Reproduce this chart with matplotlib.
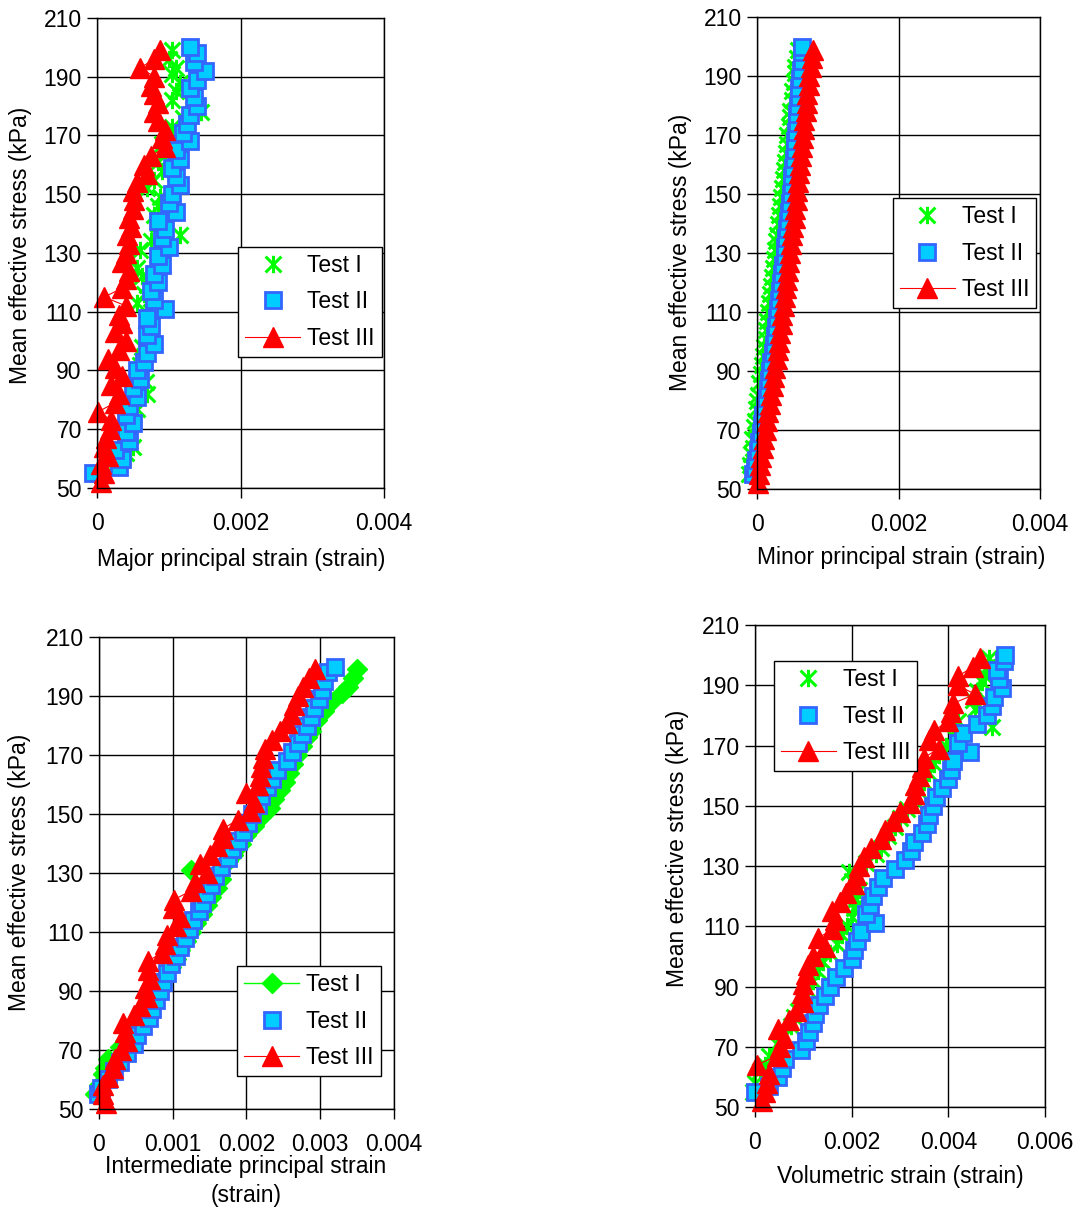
import numpy as np
import matplotlib
matplotlib.use("Agg")
import matplotlib.pyplot as plt
from matplotlib.path import Path

plt.rcParams['font.family'] = ['Liberation Sans', 'DejaVu Sans']

# mean effective stress (kPa) at each reading, per test
stress_1 = [55, 58, 62, 64, 67, 71, 73, 77, 80, 82, 86, 89, 92, 95, 98, 101, 104, 107, 110, 113,
            116, 119, 122, 125, 128, 131, 134, 136, 140, 143, 146, 149, 152, 155, 158, 161, 164, 167,
            170, 173, 176, 178, 182, 185, 188, 191, 193, 196, 199]
stress_2 = [55, 57, 60, 63, 66, 69, 72, 75, 78, 81, 84, 87, 90, 93, 96, 99, 102, 105, 108, 111,
            114, 117, 120, 123, 126, 129, 132, 135, 138, 141, 144, 147, 150, 153, 156, 159, 162, 165,
            168, 171, 174, 177, 180, 183, 186, 189, 192, 195, 198, 200]
stress_3 = [52, 55, 58, 61, 64, 67, 70, 73, 76, 79, 82, 85, 88, 91, 94, 97, 100, 103, 106, 109,
            112, 115, 118, 121, 124, 127, 130, 133, 136, 139, 142, 145, 148, 151, 154, 157, 160, 163,
            166, 169, 172, 175, 178, 181, 184, 187, 190, 193, 196, 199]

# strains in units of 1e-3
major_1 = [0.05, 0.25, 0.40, 0.50, 0.35, 0.45, 0.40, 0.55, 0.50, 0.70, 0.68, 0.55, 0.60, 0.65, 0.62,
           0.70, 0.72, 0.68, 0.75, 0.55, 0.65, 0.70, 0.62, 0.55, 0.45, 0.60, 0.75, 1.15, 0.85, 0.80,
           0.85, 0.88, 0.70, 0.80, 0.90, 0.85, 0.95, 0.90, 1.00, 1.05, 1.20, 1.45, 1.05, 1.10, 1.15,
           1.05, 1.10, 1.00, 1.05]
major_2 = [-0.05, 0.30, 0.35, 0.25, 0.45, 0.40, 0.50, 0.40, 0.45, 0.55, 0.50, 0.60, 0.55, 0.65, 0.70,
           0.80, 0.70, 0.75, 0.70, 0.95, 0.80, 0.75, 0.85, 0.80, 0.90, 0.85, 1.00, 0.90, 0.95, 0.85,
           1.10, 1.00, 1.05, 1.15, 1.10, 1.05, 1.15, 1.10, 1.30, 1.20, 1.25, 1.30, 1.40, 1.35, 1.30,
           1.40, 1.50, 1.35, 1.40, 1.30]
major_3 = [0.05, 0.10, 0.05, 0.15, 0.10, 0.12, 0.18, 0.20, 0.02, 0.25, 0.30, 0.20, 0.35, 0.25, 0.15,
           0.30, 0.40, 0.25, 0.35, 0.30, 0.40, 0.10, 0.35, 0.40, 0.45, 0.35, 0.40, 0.45, 0.42, 0.48,
           0.45, 0.50, 0.52, 0.50, 0.55, 0.70, 0.65, 0.75, 0.95, 0.90, 0.95, 0.85, 0.80, 0.85, 0.80,
           0.75, 0.80, 0.60, 0.80, 0.88]

minor_1 = [-0.12, -0.10, -0.08, -0.06, -0.07, -0.04, -0.03, -0.02, 0.00, 0.01, 0.03, 0.05, 0.07, 0.08,
           0.10, 0.12, 0.13, 0.14, 0.15, 0.17, 0.18, 0.20, 0.21, 0.23, 0.24, 0.26, 0.27, 0.28, 0.30,
           0.31, 0.33, 0.34, 0.35, 0.37, 0.38, 0.39, 0.41, 0.42, 0.43, 0.45, 0.46, 0.47, 0.49, 0.50,
           0.52, 0.53, 0.54, 0.56, 0.58]
minor_2 = [-0.05, -0.03, -0.01, 0.01, 0.03, 0.05, 0.07, 0.09, 0.11, 0.13, 0.15, 0.17, 0.19, 0.20, 0.22,
           0.24, 0.25, 0.27, 0.28, 0.30, 0.31, 0.33, 0.34, 0.36, 0.37, 0.39, 0.40, 0.41, 0.43, 0.44,
           0.45, 0.46, 0.48, 0.49, 0.50, 0.51, 0.52, 0.53, 0.54, 0.55, 0.56, 0.57, 0.58, 0.59, 0.60,
           0.61, 0.62, 0.63, 0.64, 0.64]
minor_3 = [0.02, 0.03, 0.04, 0.06, 0.08, 0.10, 0.12, 0.14, 0.16, 0.18, 0.20, 0.22, 0.24, 0.26, 0.28,
           0.30, 0.31, 0.33, 0.35, 0.36, 0.38, 0.39, 0.41, 0.42, 0.44, 0.45, 0.47, 0.48, 0.50, 0.51,
           0.53, 0.54, 0.56, 0.57, 0.58, 0.60, 0.61, 0.62, 0.63, 0.65, 0.66, 0.67, 0.69, 0.70, 0.71,
           0.73, 0.74, 0.76, 0.77, 0.79]

inter_1 = [-0.05, 0.00, 0.05, 0.08, 0.12, 0.28, 0.35, 0.45, 0.55, 0.62, 0.70, 0.78, 0.85, 0.90, 0.98,
           1.05, 1.10, 1.18, 1.25, 1.32, 1.40, 1.46, 1.52, 1.60, 1.65, 1.25, 1.75, 1.82, 1.92, 2.00,
           2.10, 2.20, 2.32, 2.38, 2.45, 2.52, 2.58, 2.63, 2.68, 2.75, 2.82, 2.88, 2.95, 3.05, 3.15,
           3.30, 3.38, 3.45, 3.50]
inter_2 = [-0.02, 0.03, 0.12, 0.20, 0.28, 0.38, 0.48, 0.52, 0.60, 0.68, 0.72, 0.78, 0.83, 0.87, 0.92,
           0.98, 1.05, 1.10, 1.17, 1.22, 1.28, 1.35, 1.40, 1.45, 1.52, 1.58, 1.65, 1.75, 1.80, 1.88,
           1.95, 2.02, 2.08, 2.15, 2.20, 2.28, 2.35, 2.42, 2.55, 2.62, 2.70, 2.75, 2.82, 2.88, 2.92,
           2.98, 3.02, 3.05, 3.10, 3.20]
inter_3 = [0.10, 0.05, 0.06, 0.12, 0.19, 0.22, 0.30, 0.38, 0.35, 0.33, 0.48, 0.55, 0.65, 0.62, 0.69,
           0.66, 0.66, 0.85, 0.90, 0.92, 1.05, 1.10, 1.00, 1.02, 1.25, 1.30, 1.46, 1.37, 1.50, 1.60,
           1.68, 1.68, 1.88, 2.05, 2.10, 2.00, 2.15, 2.18, 2.20, 2.22, 2.25, 2.35, 2.45, 2.55, 2.60,
           2.65, 2.70, 2.77, 2.85, 2.93]

vol_1 = [-0.05, 0.00, 0.10, 0.20, 0.30, 0.45, 0.55, 0.75, 0.80, 0.90, 1.00, 1.10, 1.20, 1.30, 1.40,
         1.55, 1.70, 1.80, 1.90, 2.00, 2.05, 2.10, 2.15, 2.00, 1.95, 2.30, 2.50, 2.60, 2.75, 2.90,
         3.00, 3.15, 3.30, 3.40, 3.50, 3.60, 3.70, 3.80, 3.95, 4.10, 4.90, 4.20, 4.55, 4.50, 4.60,
         4.70, 4.75, 4.80, 4.85]
vol_2 = [0.00, 0.30, 0.48, 0.55, 0.62, 0.95, 1.05, 1.12, 1.20, 1.25, 1.32, 1.45, 1.55, 1.68, 1.85,
         2.00, 2.05, 2.12, 2.20, 2.48, 2.30, 2.38, 2.45, 2.55, 2.65, 2.90, 3.10, 3.22, 3.30, 3.45,
         3.55, 3.60, 3.68, 3.75, 3.87, 4.00, 4.05, 4.10, 4.45, 4.20, 4.30, 4.60, 4.80, 4.90, 4.95,
         5.10, 5.05, 5.00, 5.15, 5.17]
vol_3 = [0.15, 0.20, 0.25, 0.30, 0.05, 0.45, 0.52, 0.60, 0.48, 0.70, 0.85, 1.00, 0.98, 1.00, 1.05,
         1.10, 1.20, 1.45, 1.30, 1.60, 1.65, 1.60, 1.75, 1.88, 2.05, 2.10, 2.15, 2.25, 2.40, 2.60,
         2.70, 2.85, 3.00, 3.20, 3.30, 3.32, 3.40, 3.45, 3.50, 3.80, 3.60, 3.70, 4.00, 4.05, 4.10,
         4.55, 4.20, 4.20, 4.50, 4.66]

labels = ["Test I", "Test II", "Test III"]
yticks = [50, 70, 90, 110, 130, 150, 170, 190, 210]
xticks_a = [0, 0.002, 0.004]
xticklabels_a = ["0", "0.002", "0.004"]
xticks_b = [0, 0.001, 0.002, 0.003, 0.004]
xticklabels_b = ["0", "0.001", "0.002", "0.003", "0.004"]
xticks_c = [0, 0.002, 0.004, 0.006]
xticklabels_c = ["0", "0.002", "0.004", "0.006"]

# excel-like "star" marker: an X with a vertical bar
star = Path([(-1, -1), (1, 1), (-1, 1), (1, -1), (0, -1.1), (0, 1.1)],
            [Path.MOVETO, Path.LINETO] * 3)

FS = 16.5


def panel(rect, xs, xticks, xticklabels, xlabel, xlab_pos, ylab_pos, leg_pos, diamond=False):
    ax = fig.add_axes(rect)
    x1, x2, x3 = [np.array(v) * 1e-3 for v in xs]
    if diamond:
        ax.plot(x1, stress_1, color="#00FF00", lw=1, marker="D", ms=10.5, mec="#00FF00",
                mfc="#00FF00", label=labels[0], clip_on=False)
    else:
        ax.plot(x1, stress_1, ls="none", marker=star, ms=12.5, mew=2.2, color="#00FF00",
                label=labels[0], clip_on=False)
    ax.plot(x2, stress_2, ls="none", marker="s", ms=11, mfc="#00CCFF", mec="#3366FF", mew=2,
            label=labels[1], clip_on=False)
    ax.plot(x3, stress_3, color="#FF0000", lw=0.8, marker="^", ms=15, mfc="#FF0000",
            mec="#FF0000", label=labels[2], clip_on=False)
    ax.set_xlim(xticks[0], xticks[-1])
    ax.set_ylim(50, 210)
    ax.set_xticks(xticks)
    ax.set_xticklabels(xticklabels)
    ax.set_yticks(yticks)
    ax.grid(True, color="black", lw=1)
    ax.set_axisbelow(True)
    for s in ax.spines.values():
        s.set_color("black")
        s.set_linewidth(1)
    ax.tick_params(direction="out", length=7, width=1, labelsize=FS)
    ax.tick_params(axis="x", pad=10)
    ax.tick_params(axis="y", pad=4)
    ax.set_xlabel(xlabel, fontsize=FS, va="center", linespacing=1.3)
    ax.xaxis.set_label_coords(*xlab_pos)
    ax.set_ylabel("Mean effective stress (kPa)", fontsize=FS, va="center")
    ax.yaxis.set_label_coords(*ylab_pos)
    leg = ax.legend(loc="center", bbox_to_anchor=leg_pos, fontsize=FS, frameon=True,
                    fancybox=False, framealpha=1, edgecolor="black", handlelength=2.4,
                    handletextpad=0.3, borderpad=0.3, labelspacing=0.6, borderaxespad=0)
    leg.get_frame().set_linewidth(1)
    return ax


fig = plt.figure(figsize=(10.77, 12.12), dpi=100)

panel([0.0901, 0.5974, 0.2665, 0.3878], (major_1, major_2, major_3), xticks_a, xticklabels_a,
      "Major principal strain (strain)", (0.502, -0.153), (-0.268, 0.517), (0.742, 0.396))
panel([0.7029, 0.5965, 0.2628, 0.3894], (minor_1, minor_2, minor_3), xticks_a, xticklabels_a,
      "Minor principal strain (strain)", (0.509, -0.146), (-0.272, 0.502), (0.733, 0.500))
panel([0.0919, 0.0850, 0.2739, 0.3894], (inter_1, inter_2, inter_3), xticks_b, xticklabels_b,
      "Intermediate principal strain\n(strain)", (0.498, -0.1525), (-0.268, 0.502),
      (0.712, 0.186), diamond=True)
panel([0.7010, 0.0866, 0.2693, 0.3977], (vol_1, vol_2, vol_3), xticks_c, xticklabels_c,
      "Volumetric strain (strain)", (0.500, -0.145), (-0.266, 0.537), (0.312, 0.811))

fig.savefig("out.png", dpi=100)
